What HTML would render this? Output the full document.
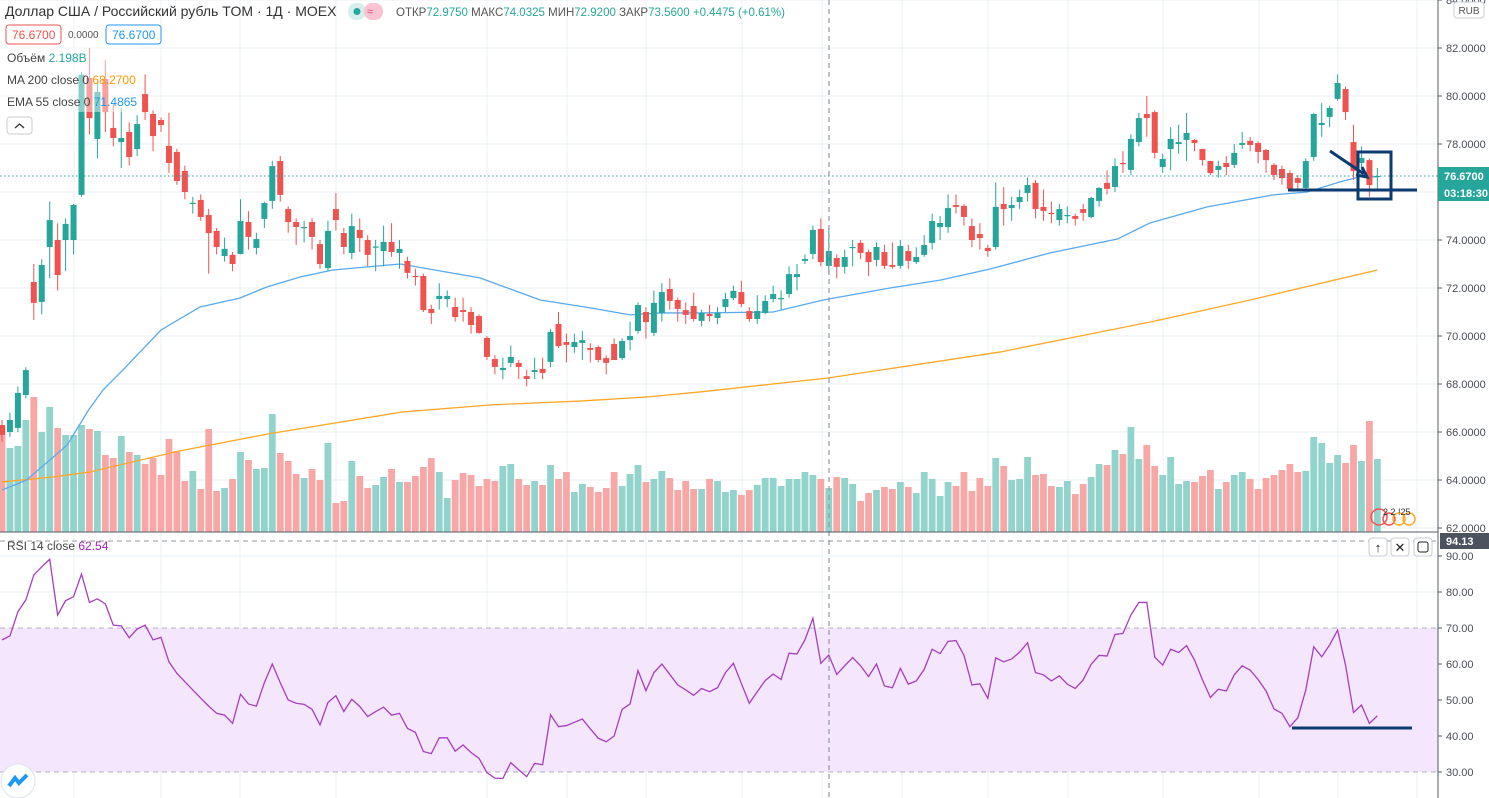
<!DOCTYPE html>
<html><head><meta charset="utf-8">
<style>
html,body{margin:0;padding:0;background:#fff;}
svg{display:block;font-family:"Liberation Sans",sans-serif;}
</style></head>
<body>
<svg id="chart" width="1489" height="798" viewBox="0 0 1489 798" xmlns="http://www.w3.org/2000/svg">
<g id="grid"></g>
<rect x="0" y="628" width="1438" height="144" fill="#f3e6fd"/>
<line x1="0" y1="628" x2="1438" y2="628" stroke="#b9b3c4" stroke-dasharray="5,4"/>
<line x1="0" y1="772" x2="1438" y2="772" stroke="#b9b3c4" stroke-dasharray="5,4"/>
<g id="vols"></g>
<g id="lines"></g>
<g id="candles"></g>
<g id="rsi"></g>
<line x1="829" y1="0" x2="829" y2="798" stroke="#9598a1" stroke-dasharray="5,4" stroke-width="1.2"/>
<line x1="0" y1="541" x2="1438" y2="541" stroke="#9598a1" stroke-dasharray="5,4"/>
<line x1="0" y1="176" x2="1438" y2="176" stroke="#26a69a" stroke-dasharray="1.5,2.5"/>
<line x1="0" y1="532" x2="1489" y2="532" stroke="#555b66" stroke-width="1"/>
<g stroke="#0c3b72" stroke-width="3" fill="none">
<line x1="1288" y1="190" x2="1417" y2="190"/>
<rect x="1358" y="152" width="33" height="47"/>
<line x1="1330" y1="151" x2="1364" y2="174"/>
<polyline points="1356,175 1367,177 1362,167"/>
<line x1="1292" y1="728" x2="1412" y2="728"/>
</g>
<rect x="0" y="47" width="140" height="65" fill="#fff" fill-opacity="0.45"/>
<rect x="1438" y="0" width="51" height="798" fill="#fff"/>
<line x1="1438" y1="0" x2="1438" y2="798" stroke="#555b66"/>
<g id="axis" font-size="11" fill="#4a4e57"></g>
<rect x="1454" y="2" width="30" height="16" rx="3" fill="#fff" stroke="#c9ccd3"/>
<text x="1469" y="14" font-size="10" fill="#555" text-anchor="middle">RUB</text>
<rect x="1438" y="167" width="51" height="34" fill="#26a69a"/>
<text x="1444" y="180" font-size="11" font-weight="bold" fill="#fff">76.6700</text>
<text x="1444" y="197" font-size="11" font-weight="bold" fill="#fff">03:18:30</text>
<rect x="1440" y="533" width="49" height="16" fill="#4c525e"/>
<text x="1446" y="545" font-size="11" font-weight="bold" fill="#fff">94.13</text>
<!-- header -->
<text x="5" y="16" font-size="14" fill="#333">Доллар США / Российский рубль TOM · 1Д · MOEX</text>
<rect x="348" y="3" width="18" height="17" rx="8" fill="#d6efec"/>
<circle cx="357" cy="11.5" r="3.5" fill="#26a69a"/>
<rect x="364" y="3" width="19" height="17" rx="8" fill="#f8c3d3"/>
<text x="367" y="15" font-size="11" fill="#e0457a">≈</text>
<text x="396" y="16" font-size="12" textLength="389" lengthAdjust="spacingAndGlyphs"><tspan fill="#555">ОТКР</tspan><tspan fill="#26a69a">72.9750 </tspan><tspan fill="#555">МАКС</tspan><tspan fill="#26a69a">74.0325 </tspan><tspan fill="#555">МИН</tspan><tspan fill="#26a69a">72.9200 </tspan><tspan fill="#555">ЗАКР</tspan><tspan fill="#26a69a">73.5600 +0.4475 (+0.61%)</tspan></text>
<rect x="6" y="25" width="55" height="19" rx="3" fill="#fff" stroke="#ef5350"/>
<text x="12" y="39" font-size="12" fill="#ef5350">76.6700</text>
<text x="68" y="38" font-size="10" fill="#555">0.0000</text>
<rect x="106" y="25" width="55" height="19" rx="3" fill="#fff" stroke="#2196f3"/>
<text x="112" y="39" font-size="12" fill="#2196f3">76.6700</text>
<text x="7" y="62" font-size="12" fill="#444">Объём <tspan fill="#26a69a">2.198B</tspan></text>
<text x="7" y="84" font-size="12" fill="#444">MA 200 close 0 <tspan fill="#ff9800">68.2700</tspan></text>
<text x="7" y="106" font-size="12" fill="#444">EMA 55 close 0 <tspan fill="#2196f3">71.4865</tspan></text>
<rect x="7" y="117" width="25" height="17" rx="3" fill="#fff" stroke="#c9ccd3"/>
<polyline points="15,128 19.5,124 24,128" fill="none" stroke="#333" stroke-width="1.3"/>
<text x="7" y="550" font-size="12" fill="#444">RSI 14 close <tspan fill="#9c27b0">62.54</tspan></text>
<g fill="#fff" stroke="#c9ccd3">
<rect x="1369" y="538" width="18" height="18" rx="3"/>
<rect x="1391" y="538" width="18" height="18" rx="3"/>
<rect x="1414" y="538" width="18" height="18" rx="3"/>
</g>
<text x="1378" y="552" font-size="13" fill="#222" text-anchor="middle">↑</text>
<text x="1400" y="552" font-size="13" fill="#222" text-anchor="middle">✕</text>
<rect x="1418" y="542" width="10" height="10" rx="2" fill="none" stroke="#222"/>
<g fill="none" stroke-width="1.5">
<circle cx="1379" cy="517" r="8" stroke="#ef5350"/>
<circle cx="1389" cy="519" r="6" stroke="#ef5350"/>
<circle cx="1399" cy="519" r="6" stroke="#ffa726"/>
<circle cx="1409" cy="519" r="6" stroke="#ffa726"/>
</g>
<text x="1383" y="515" font-size="9" fill="#333">2 2 !25</text>
<circle cx="18" cy="781" r="17" fill="#fff" stroke="#e0e3eb"/>
<polyline points="9,786 15,778 19,783 27,775" fill="none" stroke="#2196f3" stroke-width="4"/>
</svg>
<script>
const opens=[66.29,66.0,66.17,67.54,72.25,71.42,73.71,74.0,74.0,74.0,
75.88,80.75,78.21,80.71,78.67,78.08,78.5,77.79,80.08,79.25,
79.0,77.92,77.67,76.88,75.5,75.67,75.04,74.38,73.33,73.38,
73.42,74.75,73.67,74.88,75.63,77.29,75.29,74.75,74.5,74.75,
73.83,72.83,75.29,74.29,73.46,74.42,74.0,73.69,73.54,73.92,
73.46,73.13,72.5,72.5,71.13,71.54,71.54,71.21,71.08,71.0,
70.83,69.92,69.04,68.58,68.88,68.88,68.33,68.5,68.63,68.92,
70.5,69.75,69.54,69.71,69.5,69.54,69.08,69.67,69.08,69.83,
70.21,71.0,70.13,70.96,71.96,71.5,71.08,71.25,70.63,70.92,
70.75,71.21,71.58,71.83,71.04,70.71,70.96,71.54,71.54,71.75,
72.46,73.13,73.42,74.46,72.92,73.25,72.88,73.69,73.88,73.5,
73.17,73.5,72.96,72.92,73.54,73.08,73.38,73.88,74.54,74.54,
75.46,75.42,74.58,74.25,73.67,73.71,75.5,75.33,75.58,75.96,
76.38,75.38,75.13,74.83,75.0,75.0,75.29,74.96,75.63,76.38,
76.21,77.21,76.92,78.08,79.25,79.33,77.04,77.79,78.0,78.17,
78.17,77.79,77.29,76.92,77.21,77.13,77.96,78.13,78.04,77.75,
77.13,76.96,76.79,76.58,76.17,77.46,78.79,79.13,79.88,80.29,
78.08,77.21,77.33,76.63];
const closes=[65.88,66.5,67.63,68.58,71.38,72.96,74.83,72.54,74.67,75.46,
80.88,79.08,80.17,79.33,78.25,78.25,77.46,78.83,79.33,78.33,
78.79,77.21,76.46,76.0,75.55,74.96,74.29,73.71,73.63,73.0,
74.79,74.13,74.04,75.54,77.08,75.88,74.75,74.54,74.54,74.13,
73.0,74.38,74.83,73.71,74.58,74.08,73.38,73.73,73.92,73.5,
73.63,72.63,72.46,71.08,70.96,71.67,71.67,70.79,71.0,70.46,
70.13,69.13,68.71,68.67,69.13,68.71,68.21,68.58,68.46,70.17,
69.58,69.63,69.75,69.83,69.42,69.0,68.88,69.0,69.79,70.0,
71.29,70.58,71.38,71.83,71.46,71.13,70.88,70.71,70.96,70.83,
70.96,71.54,71.88,71.33,70.71,71.04,71.46,71.75,71.58,72.58,
72.58,73.21,74.42,73.08,73.54,72.88,73.29,73.71,73.46,73.08,
73.71,72.92,72.88,73.75,73.13,73.29,73.79,74.79,74.71,75.33,
75.38,74.96,74.0,74.08,73.54,75.38,75.29,75.46,75.79,76.29,
75.29,75.21,75.08,75.29,75.04,74.88,75.13,75.75,76.17,76.13,
77.08,77.17,78.21,79.08,79.08,77.63,77.38,78.21,78.08,78.46,
78.04,77.33,76.79,77.08,77.04,77.63,78.04,77.96,77.67,77.33,
76.71,76.58,76.13,76.38,77.29,79.25,78.88,79.5,80.54,79.33,
76.88,77.42,76.29,76.67];
const highs=[66.5,66.8,67.9,68.7,73.0,73.2,75.6,74.7,74.9,75.5,
81.0,82.0,80.6,81.5,79.7,79.5,78.9,79.2,80.9,79.4,
79.1,79.3,77.8,77.1,75.8,75.9,75.3,74.5,74.1,73.5,
75.7,75.2,74.3,75.6,77.3,77.5,75.4,74.9,74.8,74.9,
74.0,74.8,75.96,74.5,75.1,74.9,74.2,74.0,74.6,74.7,
74.0,73.3,72.8,72.6,71.3,72.2,71.9,71.6,71.6,71.2,
70.9,70.0,69.2,69.1,69.6,69.0,68.6,69.1,69.1,70.3,
71.0,70.1,70.1,70.2,69.7,69.6,69.2,69.9,69.9,70.6,
71.4,71.2,71.9,72.2,72.4,71.6,71.4,71.8,71.1,71.3,
71.2,71.8,72.1,72.3,71.2,71.7,71.7,72.1,71.9,72.9,
73.0,73.4,74.6,74.9,74.5,73.4,73.6,74.0,74.0,73.6,
73.9,73.8,73.9,74.0,73.8,73.7,74.2,75.1,75.0,75.9,
75.9,75.5,74.9,74.7,73.8,76.4,76.2,75.8,76.1,76.6,
76.5,76.1,75.6,75.5,75.4,75.1,75.5,75.8,76.2,76.9,
77.4,77.7,78.4,79.3,80.0,79.4,77.6,78.7,78.8,79.3,
78.2,77.8,77.3,77.3,77.5,78.0,78.5,78.3,78.1,77.8,
77.2,77.1,76.9,76.7,77.4,79.3,79.7,79.6,80.9,80.4,
78.8,77.9,77.4,77.0];
const lows=[65.6,65.8,66.0,67.4,70.67,70.9,72.4,71.9,72.7,73.4,
75.8,78.4,77.4,78.5,77.9,77.0,77.1,77.5,79.0,77.7,
78.5,76.8,76.3,75.7,75.1,74.8,72.6,73.4,73.1,72.7,
73.4,73.6,73.4,74.5,75.3,75.6,74.3,73.8,73.9,73.6,
72.8,72.7,74.4,73.4,73.2,73.5,72.9,72.7,72.9,73.3,
72.8,72.4,72.1,71.0,70.5,71.1,71.2,70.6,70.6,70.1,
70.1,69.0,68.4,68.2,68.7,68.2,67.9,68.2,68.2,68.7,
69.5,68.9,69.3,69.0,68.9,68.9,68.4,69.0,69.0,69.4,
70.1,69.9,70.0,70.6,71.1,70.6,70.5,70.6,70.4,70.6,
70.5,71.0,71.5,71.2,70.6,70.5,70.9,71.4,71.1,71.6,
71.9,73.0,73.2,72.9,72.6,72.4,72.6,72.9,73.2,72.5,
72.9,72.8,72.8,72.8,72.8,73.0,73.3,73.6,74.0,74.3,
75.1,74.6,73.7,73.6,73.3,73.6,74.6,74.8,75.3,75.6,
74.9,74.8,74.7,74.6,74.7,74.6,74.8,74.9,75.4,75.9,
76.0,76.8,76.7,77.9,78.3,77.4,76.8,76.9,77.6,77.3,
77.7,77.1,76.7,76.6,76.7,77.0,77.8,77.7,77.2,76.8,
76.5,76.3,76.1,76.1,76.1,77.3,78.3,78.7,79.8,79.0,
76.5,76.9,75.8,76.1];
const volumes=[106,84,86,112,135,100,125,104,97,97,
107,103,101,77,74,96,80,77,68,74,
57,93,81,51,61,43,103,41,44,53,
80,72,63,64,118,79,71,58,54,63,
52,89,29,31,71,56,44,47,55,63,
50,50,56,65,74,60,34,52,59,57,
46,53,51,66,68,53,47,51,47,67,
53,60,40,48,45,40,44,60,46,58,
67,50,53,61,54,42,51,43,43,53,
51,40,42,37,42,47,54,54,46,53,
53,60,57,53,44,55,54,48,31,39,
42,45,43,50,45,39,60,53,36,50,
46,60,41,54,46,74,66,52,53,75,
57,58,46,45,51,38,48,55,68,67,
82,78,105,73,87,66,57,75,48,51,
50,56,62,43,50,57,60,53,43,54,
57,62,68,60,61,95,89,69,77,69,
87,71,111,73];
const rsiValues=[66.7,67.8,74.5,77.8,84.7,87.0,89.1,73.6,77.6,78.7,
85.0,77.1,78.1,76.7,70.8,70.6,67.3,69.7,70.8,66.7,
67.4,60.6,57.4,55.1,52.8,50.5,48.3,46.3,45.8,43.5,
51.6,48.9,48.3,54.8,60.0,54.8,50.0,49.1,48.8,47.4,
43.1,49.3,51.2,46.8,50.2,48.2,45.4,46.8,48.0,45.8,
46.3,42.1,41.0,35.7,35.1,39.5,39.5,35.8,37.5,35.4,
33.8,29.8,28.3,28.2,32.6,30.6,28.7,32.4,32.0,45.9,
42.6,42.9,43.8,44.7,42.0,39.4,38.4,40.0,47.4,48.9,
58.2,52.6,57.6,60.0,57.1,54.2,52.8,51.3,53.2,52.3,
53.4,57.6,60.2,54.6,49.1,52.3,55.4,57.2,55.7,63.0,
62.8,66.7,72.7,60.2,62.5,57.1,59.5,61.8,59.5,56.5,
60.0,53.9,53.4,58.8,54.4,55.3,58.5,64.1,62.9,66.3,
66.5,62.4,54.2,54.5,50.5,61.7,60.6,61.4,63.3,65.9,
57.6,57.0,55.3,56.7,54.4,53.2,55.6,59.9,62.4,62.2,
68.2,68.5,73.6,77.1,77.1,61.9,59.7,64.1,63.2,65.1,
61.1,55.6,50.7,53.0,52.5,57.0,59.5,58.3,55.7,52.5,
47.5,46.3,42.6,45.1,52.8,64.8,62.0,65.3,69.4,59.7,
46.5,48.6,43.5,45.6];
const emaIdx=[0,3.1,8.2,10.9,12.7,15.2,20,24.9,29.9,33.3,37.5,41.6,50.1,60.1,67.7,74,79,82.8,87.8,97,103.3,111.7,118,124.3,131.8,140.3,144.4,151.6,159.9,164.2,168.3,170.8,173];
const emaVals=[63.58,64.0,65.46,66.92,67.75,68.58,70.25,71.21,71.58,72.04,72.46,72.75,73.0,72.42,71.5,71.17,70.88,70.96,70.96,71.0,71.5,72.0,72.33,72.79,73.46,74.04,74.71,75.38,75.88,76.0,76.42,76.63,76.63];
const maIdx=[0,6.5,11,22.3,33.5,50.3,61.5,72.7,81.1,87.8,103.9,125.5,144.4,157,173];
const maVals=[63.92,64.13,64.33,65.21,65.92,66.83,67.13,67.29,67.46,67.67,68.25,69.33,70.58,71.5,72.75];
const priceTicks=[84,82,80,78,76,74,72,70,68,66,64,62];
const rsiTicks=[90,80,70,60,50,40,30];
const gridX=[74,161,240,336,487,567,646,742,822,902,988,1068,1163,1259,1338,1417];

const NS='http://www.w3.org/2000/svg';
const xOf=i=>2+7.95*i;
const pY=p=>48+(82-p)*24;
const vY=v=>532-v;
const rY=v=>556+(90-v)*3.6;
function mk(tag,attrs,parent){const e=document.createElementNS(NS,tag);for(const k in attrs)e.setAttribute(k,attrs[k]);parent.appendChild(e);return e;}

const grid=document.getElementById('grid');
priceTicks.forEach(p=>{const l=mk('line',{x1:0,x2:1438,y1:pY(p),y2:pY(p),stroke:'#eaf0f5'},grid);

});
rsiTicks.forEach(v=>{if(v===70||v===30)return;const l=mk('line',{x1:0,x2:1438,y1:rY(v),y2:rY(v),stroke:'#eaf0f5'},grid);

});
gridX.forEach(x=>{const l=mk('line',{x1:x,x2:x,y1:0,y2:798,stroke:'#eaf0f5'},grid);

});

const vg=document.getElementById('vols');
volumes.forEach((v,i)=>{const up=closes[i]>=opens[i];
const r=mk('rect',{x:xOf(i)-3.4,y:vY(v),width:6.8,height:v,fill:up?'#92d3cc':'#f7a8a6'},vg);

});

const lg=document.getElementById('lines');
const ma=mk('polyline',{points:maIdx.map((k,j)=>xOf(k)+','+pY(maVals[j])).join(' '),fill:'none',stroke:'#ffa726','stroke-width':1.3},lg);


const ema=mk('polyline',{points:emaIdx.map((k,j)=>xOf(k)+','+pY(emaVals[j])).join(' '),fill:'none',stroke:'#5aa9ef','stroke-width':1.3},lg);



const cg=document.getElementById('candles');
opens.forEach((o,i)=>{const c=closes[i];const up=c>=o;const col=up?'#26a69a':'#ef5350';const x=xOf(i);
const hi=Math.max(highs[i],o,c),lo=Math.min(lows[i],o,c);
const w=mk('line',{x1:x,x2:x,y1:pY(hi),y2:pY(lo),stroke:col,'stroke-width':1},cg);


const top=pY(Math.max(o,c)),bot=pY(Math.min(o,c));
const b=mk('rect',{x:x-3,y:top,width:6,height:Math.max(1.2,bot-top),fill:col},cg);

});

const rg=document.getElementById('rsi');
const rl=mk('polyline',{points:rsiValues.map((v,i)=>xOf(i)+','+rY(v)).join(' '),fill:'none',stroke:'#a53fbd','stroke-width':1.3},rg);



const ax=document.getElementById('axis');
priceTicks.forEach(p=>{const y=pY(p);
const t=mk('line',{x1:1438,x2:1442,y1:y,y2:y,stroke:'#555b66'},ax);


const tx=mk('text',{x:1446,y:y+4},ax);tx.textContent=p.toFixed(4);

});
rsiTicks.forEach(v=>{const y=rY(v);
const t=mk('line',{x1:1438,x2:1442,y1:y,y2:y,stroke:'#555b66'},ax);


const tx=mk('text',{x:1446,y:y+4},ax);tx.textContent=v.toFixed(2);

});
</script>
</body></html>
